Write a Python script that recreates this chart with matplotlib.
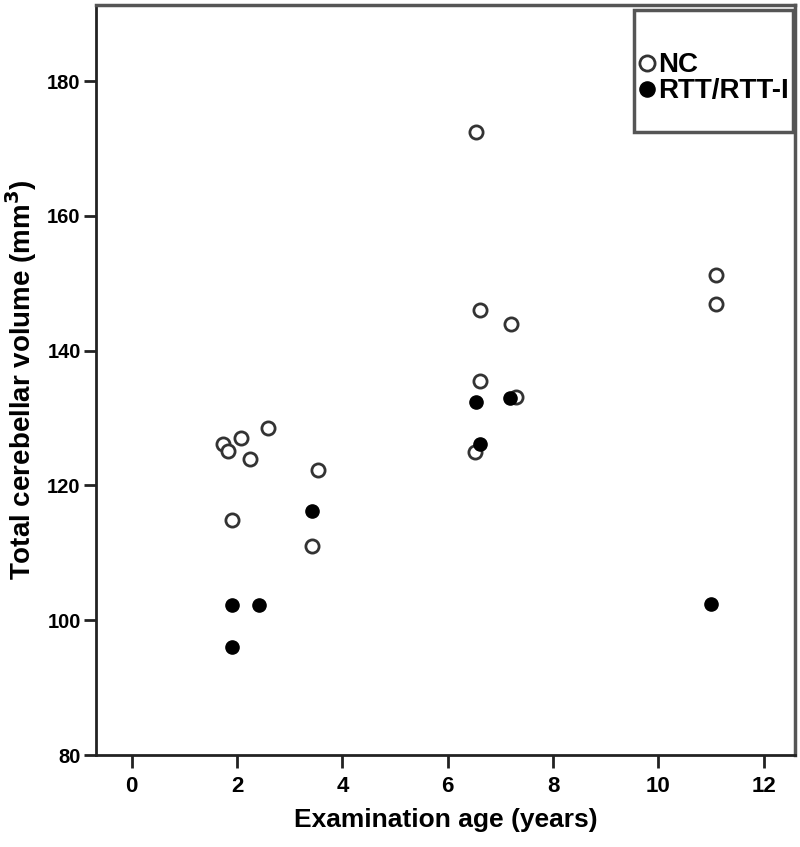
import matplotlib
matplotlib.use('Agg')
import matplotlib.pyplot as plt
from matplotlib.patches import Rectangle

# NC group (open circles)
nc_age = [1.74, 1.83, 2.08, 2.25, 2.59, 1.91, 3.53, 3.43,
          6.54, 6.61, 7.20, 6.61, 7.29, 6.52, 11.09, 11.09]
nc_vol = [126.1, 125.1, 127.0, 123.9, 128.6, 114.9, 122.3, 111.0,
          172.4, 146.0, 144.0, 135.5, 133.2, 124.9, 151.3, 146.9]

# RTT/RTT-I group (filled circles)
rtt_age = [1.91, 2.42, 1.91, 3.43, 6.53, 7.18, 6.61, 11.00]
rtt_vol = [102.2, 102.3, 96.0, 116.2, 132.4, 133.0, 126.2, 102.4]

xticks = [0, 2, 4, 6, 8, 10, 12]
yticks = [80, 100, 120, 140, 160, 180]

plt.rcParams['font.family'] = ['Liberation Sans', 'DejaVu Sans']

fig = plt.figure(figsize=(8, 8.47), dpi=100)
ax = fig.add_axes([0.12, 0.1086, 0.874, 0.8855])

ax.plot(nc_age, nc_vol, 'o', ms=9.5, mfc='white', mec='#333333', mew=2.0,
        linestyle='none', label='NC')
ax.plot(rtt_age, rtt_vol, 'o', ms=9.5, mfc='black', mec='black', mew=1.0,
        linestyle='none', label='RTT/RTT-I')

ax.set_xlim(-0.68, 12.6)
ax.set_ylim(80, 191.3)
ax.set_xticks(xticks)
ax.set_yticks(yticks)

for lab in ax.get_xticklabels():
    lab.set_fontweight('bold')
    lab.set_fontsize(16)
for lab in ax.get_yticklabels():
    lab.set_fontweight('bold')
    lab.set_fontsize(14.5)

ax.tick_params(axis='both', direction='out', length=9, width=2, color='#222222')
ax.tick_params(axis='x', pad=6)
ax.tick_params(axis='y', pad=2)

ax.spines['left'].set_linewidth(2)
ax.spines['bottom'].set_linewidth(2)
ax.spines['left'].set_color('#222222')
ax.spines['bottom'].set_color('#222222')
ax.spines['top'].set_linewidth(2.5)
ax.spines['right'].set_linewidth(2.5)
ax.spines['top'].set_color('#555555')
ax.spines['right'].set_color('#555555')

ax.set_xlabel('Examination age (years)', fontsize=19, fontweight='bold', labelpad=8)
ax.set_ylabel('Total cerebellar volume (mm$^{\\mathbf{3}}$)', fontsize=20,
              fontweight='bold', labelpad=6)

# legend box
ax.add_patch(Rectangle((0.770, 0.831), 0.227, 0.162, transform=ax.transAxes,
                       fill=False, edgecolor='#555555', lw=2.5, zorder=5))
leg = ax.legend(loc='upper left', bbox_to_anchor=(0.776, 0.937), frameon=False,
                prop={'weight': 'bold', 'size': 20}, handlelength=0.6,
                handletextpad=0.1, labelspacing=0.0, borderpad=0,
                borderaxespad=0, markerscale=1.15)

fig.savefig('out.png', dpi=100)
